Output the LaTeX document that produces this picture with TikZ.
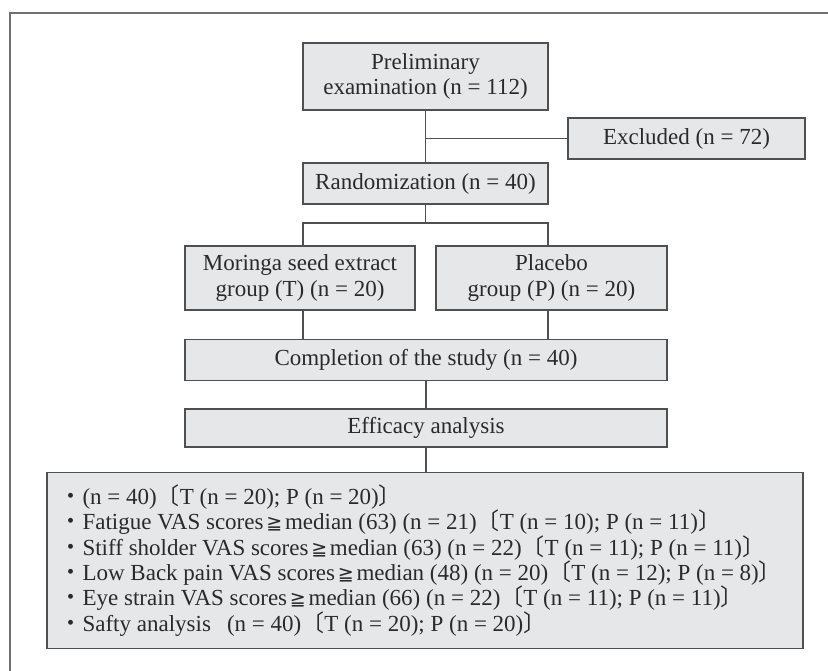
\documentclass[tikz,border=0pt]{standalone}
\usepackage{fontspec}
\setmainfont{Liberation Serif}
\newfontfamily\cjk{Noto Sans CJK JP}
\newfontfamily\dejavu{DejaVu Sans}
\definecolor{boxfill}{HTML}{E6E7E9}
\definecolor{boxline}{HTML}{505050}
\definecolor{framec}{HTML}{707070}
\definecolor{textc}{HTML}{2A2A2A}
\newcommand\lbk{{\cjk 〔}}
\newcommand\rbk{{\cjk 〕}}
\newcommand\mygeq{\hspace{0.12em}{\dejavu\fontsize{19}{25.4}\selectfont ≧}\hspace{0.12em}}
\newcommand\bul{{\cjk ・}}
\newcommand\mainfs{\fontsize{23}{25.4}\selectfont}
\tikzset{
  box/.style={draw=boxline, fill=boxfill, line width=1.3pt, inner sep=0pt,
    align=center, font=\mainfs, text=textc},
  conn/.style={draw=boxline, line width=1.1pt}
}
\begin{document}
\begin{tikzpicture}[x=1pt,y=-1pt]
\useasboundingbox (0,0) rectangle (828,671);
\draw[framec, line width=1.2pt] (10,672) -- (10,13) -- (829,13);

\node[box, minimum width=245pt, minimum height=67pt] (prelim) at (425.5,76.5) {Preliminary\\examination (n = 112)};
\node[box, minimum width=237pt, minimum height=41pt] (excl) at (686.5,138.5) {Excluded (n = 72)};
\node[box, minimum width=245pt, minimum height=41pt] (rand) at (425.5,183.5) {Randomization (n = 40)};
\node[box, minimum width=230pt, minimum height=64pt] (moringa) at (300,278) {Moringa seed extract\\group (T) (n = 20)};
\node[box, minimum width=231pt, minimum height=64pt] (placebo) at (551.5,278) {Placebo\\group (P) (n = 20)};
\node[box, minimum width=482pt, minimum height=40.5pt] (compl) at (426,360) {Completion of the study (n = 40)};
\node[box, minimum width=482pt, minimum height=38pt] (effic) at (426,428) {Efficacy analysis};
\node[box, minimum width=756pt, minimum height=175.6pt] (big) at (425,560.5) {};
\node[font=\mainfs, text=textc, align=left, anchor=west, inner sep=0pt] (bigtext) at ([xshift=13pt]big.west) {%
\bul(n = 40)\lbk T (n = 20); P (n = 20)\rbk\\
\bul Fatigue VAS scores\mygeq median (63) (n = 21)\lbk T (n = 10); P (n = 11)\rbk\\
\bul Stiff sholder VAS scores\mygeq median (63) (n = 22)\lbk T (n = 11); P (n = 11)\rbk\\
\bul Low Back pain VAS scores\mygeq median (48) (n = 20)\lbk T (n = 12); P (n = 8)\rbk\\
\bul Eye strain VAS scores\mygeq median (66) (n = 22)\lbk T (n = 11); P (n = 11)\rbk\\
\bul Safty analysis\hspace{0.45em} (n = 40)\lbk T (n = 20); P (n = 20)\rbk};

\coordinate (lx) at (303,0);
\coordinate (rx) at (548,0);
\coordinate (sy) at (0,223);

\draw[conn] (prelim.south) -- (rand.north);
\draw[conn] (prelim.south |- excl.west) -- (excl.west);
\draw[conn] (rand.south) -- (rand.south |- sy);
\draw[conn] (moringa.north -| lx) -- (lx |- sy) -- (rx |- sy) -- (placebo.north -| rx);
\draw[conn] (moringa.south -| lx) -- (compl.north -| lx);
\draw[conn] (placebo.south -| rx) -- (compl.north -| rx);
\draw[conn] (compl.south) -- (effic.north);
\draw[conn] (effic.south) -- (effic.south |- big.north);
\end{tikzpicture}
\end{document}
